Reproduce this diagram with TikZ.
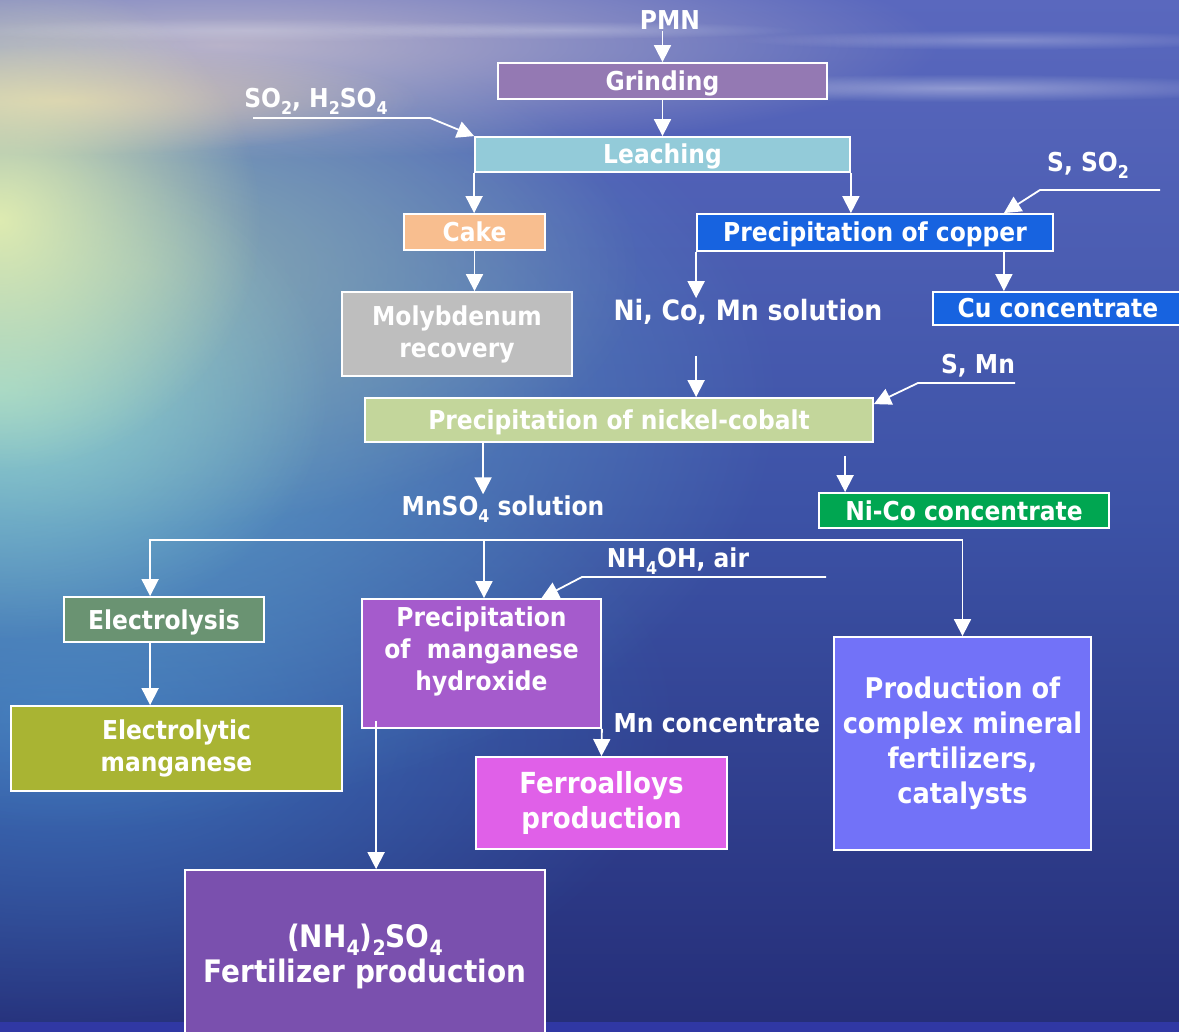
\documentclass[tikz,border=0pt]{standalone}
\usepackage{fontspec}
\setmainfont{DejaVu Sans}[FakeStretch=0.9]
\usetikzlibrary{arrows.meta,calc,fadings}
\definecolor{cGrind}{HTML}{9479B3}
\definecolor{cLeach}{HTML}{93CBD9}
\definecolor{cCake}{HTML}{F8BE8F}
\definecolor{cMoly}{HTML}{BEBEBE}
\definecolor{cCopper}{HTML}{1763E0}
\definecolor{cNiCo}{HTML}{C3D69B}
\definecolor{cNiCoC}{HTML}{00A651}
\definecolor{cElec}{HTML}{6A9372}
\definecolor{cEMn}{HTML}{A9B433}
\definecolor{cMnOH}{HTML}{A55BCC}
\definecolor{cFerro}{HTML}{E060E8}
\definecolor{cFert}{HTML}{7A50AE}
\definecolor{cProd}{HTML}{7272F8}
\definecolor{bgTop}{HTML}{5A68BE}
\definecolor{bgMid}{HTML}{3C52A6}
\definecolor{bgBot}{HTML}{252E78}
\definecolor{bgWater}{HTML}{5FA2C6}
\definecolor{bgLow}{HTML}{3F7EC4}
\definecolor{bgTeal}{HTML}{8EAAB0}
\definecolor{bgCloud}{HTML}{B9B3CA}
\definecolor{bgPeach}{HTML}{E0CAB0}
\definecolor{bgYellow}{HTML}{E8F2B0}
\definecolor{bgCyan}{HTML}{9ADCD2}
\definecolor{bgBand}{HTML}{3038A4}
\tikzfading[name=radfade, inner color=transparent!0, outer color=transparent!100]
\newcommand\mylab{\bfseries\fontsize{26}{32}\selectfont}
\newcommand\mylabM{\bfseries\fontsize{28}{34}\selectfont}
\newcommand\mylabF{\bfseries\fontsize{29}{35}\selectfont}
\newcommand\mylabP{\bfseries\fontsize{28.5}{35}\selectfont}
\newcommand\mylabX{\bfseries\fontsize{31}{35}\selectfont}
\newcommand\sbs[1]{\raisebox{-0.28em}{\scalebox{0.68}{#1}}}
\tikzset{
  box/.style={draw=white, line width=1.8pt, inner sep=0pt, text=white, font=\mylab, align=center},
  one/.style={text height=19pt, text depth=0pt},
  arr/.style={draw=white, line width=1.8pt, -{Triangle[length=17pt,width=17pt]}},
  lbl/.style={text=white, font=\mylab, inner sep=1pt, align=center}
}
\begin{document}
\begin{tikzpicture}[x=1pt,y=1pt]
\useasboundingbox (0,0) rectangle (1179,-1032);
% ---------- background ----------
\begin{scope}
\clip (0,0) rectangle (1179,-1032);
\shade[top color=bgTop, bottom color=bgBot, middle color=bgMid] (0,0) rectangle (1179,-1032);
\fill[color=bgLow, path fading=radfade, opacity=.8] (60,-720) ellipse [x radius=620, y radius=330];
\fill[color=bgWater, path fading=radfade] (60,-400) ellipse [x radius=720, y radius=430];
\fill[color=bgTeal, path fading=radfade, opacity=.9] (140,-270) ellipse [x radius=500, y radius=260];
\fill[color=bgCloud, path fading=radfade] (220,-45) ellipse [x radius=720, y radius=115];
\fill[color=bgPeach, path fading=radfade, opacity=.85] (60,-100) ellipse [x radius=360, y radius=55];
\fill[color=bgCyan, path fading=radfade, opacity=.8] (0,-390) ellipse [x radius=330, y radius=250];
\fill[color=bgYellow, path fading=radfade, opacity=.9] (0,-220) ellipse [x radius=260, y radius=250];
\fill[color=white, opacity=.35, path fading=radfade] (960,-88) ellipse [x radius=320, y radius=14];
\fill[color=white, opacity=.25, path fading=radfade] (1000,-40) ellipse [x radius=260, y radius=10];
\fill[color=white, opacity=.25, path fading=radfade] (560,-30) ellipse [x radius=240, y radius=9];
\fill[color=white, opacity=.2, path fading=radfade] (250,-30) ellipse [x radius=300, y radius=12];
\fill[color=bgBand] (0,-1022) rectangle (1179,-1032);
\end{scope}
% ---------- boxes ----------
\node[lbl] (pmn) at (670,-20) {PMN};
\node[box, one, fill=cGrind, minimum width=329pt, minimum height=36pt] (grind) at (662.5,-81) {Grinding};
\node[box, one, fill=cLeach, minimum width=375pt, minimum height=35pt] (leach) at (662.5,-154.5) {Leaching};
\node[lbl] (so2) at (316,-101) {SO\sbs{2}, H\sbs{2}SO\sbs{4}};
\node[box, one, fill=cCake, minimum width=141pt, minimum height=36pt] (cake) at (474.5,-232) {Cake};
\node[box, fill=cMoly, minimum width=230pt, minimum height=84pt] (moly) at (457,-334) {Molybdenum\\recovery};
\node[box, one, fill=cCopper, minimum width=356pt, minimum height=37pt] (copper) at (875,-232.5) {Precipitation of copper};
\node[lbl] (sso2) at (1088,-165) {S, SO\sbs{2}};
\node[lbl, font=\mylabM] (nicosol) at (748,-312) {Ni, Co, Mn solution};
\node[box, one, fill=cCopper, minimum width=250pt, minimum height=33pt] (cu) at (1058,-308.5) {Cu concentrate};
\node[box, one, fill=cNiCo, minimum width=508pt, minimum height=44pt] (nico) at (619,-420) {Precipitation of nickel-cobalt};
\node[lbl] (smn) at (978,-366) {S, Mn};
\node[lbl] (mnso4) at (503,-509) {MnSO\sbs{4} solution};
\node[box, one, fill=cNiCoC, minimum width=290pt, minimum height=35pt] (nicoc) at (964,-510.5) {Ni-Co concentrate};
\node[box, one, fill=cElec, minimum width=200pt, minimum height=45pt] (elec) at (164,-619.5) {Electrolysis};
\node[box, fill=cEMn, minimum width=331pt, minimum height=85pt] (emn) at (176.5,-748.5) {Electrolytic\\manganese};
\node[box, fill=cMnOH, minimum width=239pt, minimum height=129pt] (mnoh) at (481.5,-663.5) {};
\node[lbl] (mnohtxt) at (481.5,-651) {Precipitation\\of\ \ manganese\\hydroxide};
\node[lbl] (nh4oh) at (678,-561) {NH\sbs{4}OH, air};
\node[lbl] (mnc) at (717,-723) {Mn concentrate};
\node[box, fill=cFerro, minimum width=251pt, minimum height=92pt, font=\mylabF] (ferro) at (601.5,-803) {Ferroalloys\\production};
\node[box, fill=cProd, minimum width=257pt, minimum height=213pt, font=\mylabP] (prod) at (962.5,-743.5) {Production of\\complex mineral\\fertilizers,\\catalysts};
\node[box, fill=cFert, minimum width=360pt, minimum height=172pt, font=\mylabX] (fert) at (365,-956) {(NH\sbs{4})\sbs{2}SO\sbs{4}\\Fertilizer production};
% ---------- coordinates ----------
\coordinate (so2s) at (253,-118);
\coordinate (so2k) at (430,-118);
\coordinate (sso2s) at (1160,-190);
\coordinate (sso2k) at (1040,-190);
\coordinate (cuA) at ($(copper.south east)+(-50,0)$);
\coordinate (cuB) at ($(copper.north east)+(-50,0)$);
\coordinate (nsB) at ($(nicosol.south)+(0,-30)$);
\coordinate (smns) at (1015,-383);
\coordinate (smnk) at (918,-383);
\coordinate (nicoIn) at ($(nico.north east)+(0,-7)$);
\coordinate (nmA) at ($(nico.south west)+(119,0)$);
\coordinate (ncA) at ($(nicoc.north west)+(27,36)$);
\coordinate (br) at (484,-540);
\coordinate (ea) at ($(elec.north west)+(87,0)$);
\coordinate (eb) at ($(elec.south west)+(87,0)$);
\coordinate (nhs) at (826,-577);
\coordinate (nhk) at (582,-577);
\coordinate (mnohIn) at ($(mnoh.north)+(60,0)$);
\coordinate (fa) at ($(mnoh.south west)+(15,8)$);
% ---------- connectors ----------
\draw[arr] (grind.north |- pmn.south) -- (grind.north);
\draw[arr] (grind.south) -- (leach.north);
\draw[arr] (so2s) -- (so2k) -- (leach.north west);
\draw[arr] (leach.south west) -- (leach.south west |- cake.north);
\draw[arr] (leach.south east) -- (leach.south east |- copper.north);
\draw[arr] (cake.south) -- (cake.south |- moly.north);
\draw[arr] (sso2s) -- (sso2k) -- (cuB);
\draw[arr] (copper.south west) -- (copper.south west |- nicosol.north);
\draw[arr] (cuA) -- (cuA |- cu.north);
\draw[arr] (nsB -| copper.south west) -- (copper.south west |- nico.north);
\draw[arr] (smns) -- (smnk) -- (nicoIn);
\draw[arr] (nmA) -- (nmA |- mnso4.north);
\draw[arr] (ncA) -- (ncA |- nicoc.north);
\draw[arr] (br) -| (ea);
\draw[arr] (br) -| (prod.north);
\draw[arr] (br) -- (br |- mnoh.north);
\draw[arr] (eb) -- (eb |- emn.north);
\draw[arr] (nhs) -- (nhk) -- (mnohIn);
\draw[arr] (mnoh.south east) -- (ferro.north);
\draw[arr] (fa) -- (fa |- fert.north);
\end{tikzpicture}
\end{document}
